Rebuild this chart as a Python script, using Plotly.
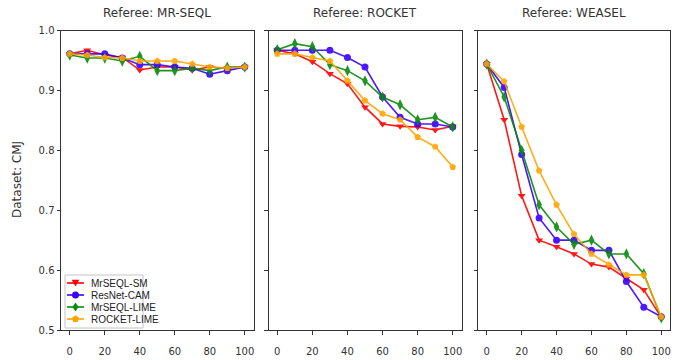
import math
import plotly.graph_objects as go

x_vals = [0, 10, 20, 30, 40, 50, 60, 70, 80, 90, 100]
referees = ["MR-SEQL", "ROCKET", "WEASEL"]
methods = ["MrSEQL-SM", "ResNet-CAM", "MrSEQL-LIME", "ROCKET-LIME"]

# Referee: MR-SEQL
mrseql_sm_mrseql = [0.961, 0.967, 0.959, 0.955, 0.934, 0.939, 0.939, 0.934, 0.939, 0.937, 0.939]
resnet_cam_mrseql = [0.961, 0.961, 0.961, 0.954, 0.943, 0.943, 0.939, 0.937, 0.927, 0.933, 0.939]
mrseql_lime_mrseql = [0.959, 0.954, 0.954, 0.949, 0.957, 0.933, 0.933, 0.937, 0.933, 0.939, 0.939]
rocket_lime_mrseql = [0.961, 0.959, 0.955, 0.954, 0.949, 0.949, 0.949, 0.944, 0.939, 0.937, 0.939]

# Referee: ROCKET
mrseql_sm_rocket = [0.967, 0.961, 0.948, 0.928, 0.911, 0.872, 0.844, 0.840, 0.839, 0.834, 0.840]
resnet_cam_rocket = [0.967, 0.967, 0.967, 0.967, 0.955, 0.939, 0.889, 0.855, 0.844, 0.844, 0.839]
mrseql_lime_rocket = [0.968, 0.978, 0.973, 0.943, 0.933, 0.916, 0.889, 0.876, 0.851, 0.855, 0.839]
rocket_lime_rocket = [0.961, 0.961, 0.955, 0.949, 0.916, 0.883, 0.861, 0.851, 0.822, 0.806, 0.772]

# Referee: WEASEL
mrseql_sm_weasel = [0.944, 0.851, 0.724, 0.650, 0.639, 0.627, 0.610, 0.605, 0.586, 0.567, 0.521]
resnet_cam_weasel = [0.944, 0.905, 0.793, 0.687, 0.650, 0.650, 0.633, 0.633, 0.581, 0.538, 0.522]
mrseql_lime_weasel = [0.944, 0.889, 0.800, 0.709, 0.672, 0.643, 0.650, 0.627, 0.627, 0.594, 0.520]
rocket_lime_weasel = [0.944, 0.915, 0.839, 0.766, 0.709, 0.660, 0.627, 0.609, 0.592, 0.592, 0.522]

series = [
    [mrseql_sm_mrseql, resnet_cam_mrseql, mrseql_lime_mrseql, rocket_lime_mrseql],
    [mrseql_sm_rocket, resnet_cam_rocket, mrseql_lime_rocket, rocket_lime_rocket],
    [mrseql_sm_weasel, resnet_cam_weasel, mrseql_lime_weasel, rocket_lime_weasel],
]

colors = ["#ff0000", "#3a00ff", "#0a8a0a", "#ffa500"]
symbols = ["triangle-down", "circle", "diamond-tall", "pentagon"]
msizes = [7, 7, 8, 7]

W, H = 675, 360
MT, MB = 5, 5  # plot-area margins (paper coords live inside them)
PH = H - MT - MB
doms_px = [(61, 253.5), (268.5, 461.5), (478, 670)]
ytop_px, ybot_px = 30.5, 330

fig = go.Figure()
font_main = "DejaVu Sans, Arial, sans-serif"
font_leg = "Liberation Sans Narrow, Arial Narrow, Arial, sans-serif"

for p in range(3):
    xa = "x" if p == 0 else f"x{p+1}"
    ya = "y" if p == 0 else f"y{p+1}"
    for m in range(4):
        fig.add_trace(go.Scatter(
            x=x_vals, y=series[p][m], mode="lines+markers",
            name=methods[m], legendgroup=methods[m], showlegend=False,
            line=dict(color=colors[m], width=1.6),
            marker=dict(symbol=symbols[m], size=msizes[m], color=colors[m]),
            opacity=0.9,
            xaxis=xa, yaxis=ya,
        ))


def px(x, y):
    """pixel position in the picture -> paper fraction"""
    return x / W, 1 - (y - MT) / PH


def poly_path(pts):
    s = ""
    for i, (a, b) in enumerate(pts):
        u, v = px(a, b)
        s += ("M" if i == 0 else "L") + f"{u:.5f},{v:.5f} "
    return s + "Z"


shapes = []
annotations = []

# legend (matplotlib style, lower-left inside first panel)
bx0, by0 = px(65, 275)
bx1, by1 = px(143, 328)
shapes.append(dict(type="rect", xref="paper", yref="paper", x0=bx0, y0=by1, x1=bx1, y1=by0,
                   line=dict(color="#c4c4c4", width=1), fillcolor="rgba(255,255,255,0.9)", layer="above"))
row_y = [283, 295, 307, 319]
for m in range(4):
    ry = row_y[m]
    lx0, ly = px(67, ry)
    lx1, _ = px(84, ry)
    shapes.append(dict(type="line", xref="paper", yref="paper", x0=lx0, y0=ly, x1=lx1, y1=ly,
                       line=dict(color=colors[m], width=1.6), layer="above"))
    cx = 75.5
    if symbols[m] == "triangle-down":
        pts = [(cx - 3.8, ry - 3.2), (cx + 3.8, ry - 3.2), (cx, ry + 3.6)]
        shapes.append(dict(type="path", xref="paper", yref="paper", path=poly_path(pts),
                           fillcolor=colors[m], line=dict(width=0), layer="above"))
    elif symbols[m] == "circle":
        a0, b0 = px(cx - 3.5, ry + 3.5)
        a1, b1 = px(cx + 3.5, ry - 3.5)
        shapes.append(dict(type="circle", xref="paper", yref="paper", x0=a0, y0=b0, x1=a1, y1=b1,
                           fillcolor=colors[m], line=dict(width=0), layer="above"))
    elif symbols[m] == "diamond-tall":
        pts = [(cx, ry - 4.5), (cx + 3, ry), (cx, ry + 4.5), (cx - 3, ry)]
        shapes.append(dict(type="path", xref="paper", yref="paper", path=poly_path(pts),
                           fillcolor=colors[m], line=dict(width=0), layer="above"))
    else:
        r = 3.8
        pts = [(cx + r * math.sin(2 * math.pi * k / 5), ry - r * math.cos(2 * math.pi * k / 5)) for k in range(5)]
        shapes.append(dict(type="path", xref="paper", yref="paper", path=poly_path(pts),
                           fillcolor=colors[m], line=dict(width=0), layer="above"))
    tx, ty = px(88.5, ry)
    annotations.append(dict(text=methods[m], x=tx, y=ty, xref="paper", yref="paper", showarrow=False,
                            xanchor="left", yanchor="middle",
                            font=dict(family=font_leg, size=10, color="#222222")))

layout = dict(
    width=W, height=H, autosize=False,
    margin=dict(l=0, r=0, t=MT, b=MB, pad=0),
    paper_bgcolor="white", plot_bgcolor="white",
    font=dict(family=font_main, size=10, color="#333333"),
    showlegend=False,
    shapes=shapes,
    annotations=annotations,
)

yd0 = px(0, ybot_px)[1]
yd1 = px(0, ytop_px)[1]
for p in range(3):
    sfx = "" if p == 0 else str(p + 1)
    x0, x1 = doms_px[p]
    layout["xaxis" + sfx] = dict(
        domain=[x0 / W, x1 / W], anchor="y" + sfx, range=[-5, 105],
        tickvals=[0, 20, 40, 60, 80, 100], ticks="outside", ticklen=3.5,
        ticklabelstandoff=8,
        tickcolor="#333333", showgrid=False, zeroline=False,
        showline=True, linecolor="#333333", linewidth=1, mirror=True,
        tickfont=dict(size=10, color="#333333"),
    )
    layout["yaxis" + sfx] = dict(
        domain=[yd0, yd1], anchor="x" + sfx, range=[0.5, 1.0],
        tickvals=[0.5, 0.6, 0.7, 0.8, 0.9, 1.0],
        ticktext=["0.5", "0.6", "0.7", "0.8", "0.9", "1.0"],
        showticklabels=(p == 0), ticks="outside", ticklen=3.5,
        tickcolor="#333333", showgrid=False, zeroline=False,
        showline=True, linecolor="#333333", linewidth=1, mirror=True,
        tickfont=dict(size=10, color="#333333"),
    )
    tx, ty = px((x0 + x1) / 2, 13)
    layout["annotations"].append(dict(
        text=f"Referee: {referees[p]}", x=tx, y=ty,
        xref="paper", yref="paper", showarrow=False,
        xanchor="center", yanchor="middle",
        font=dict(family=font_main, size=12, color="#333333"),
    ))

tx, ty = px(17, 180)
layout["annotations"].append(dict(
    text="Dataset: CMJ", x=tx, y=ty, xref="paper", yref="paper",
    showarrow=False, textangle=-90, xanchor="center", yanchor="middle",
    font=dict(family=font_main, size=12, color="#333333"),
))

fig.update_layout(**layout)
fig.write_html(
    "out.html", config={"displayModeBar": False},
    post_script=(
        "document.documentElement.style.margin='0';document.documentElement.style.overflow='hidden';"
        "document.body.style.margin='0';document.body.style.padding='0';document.body.style.overflow='hidden';"
    ),
)
